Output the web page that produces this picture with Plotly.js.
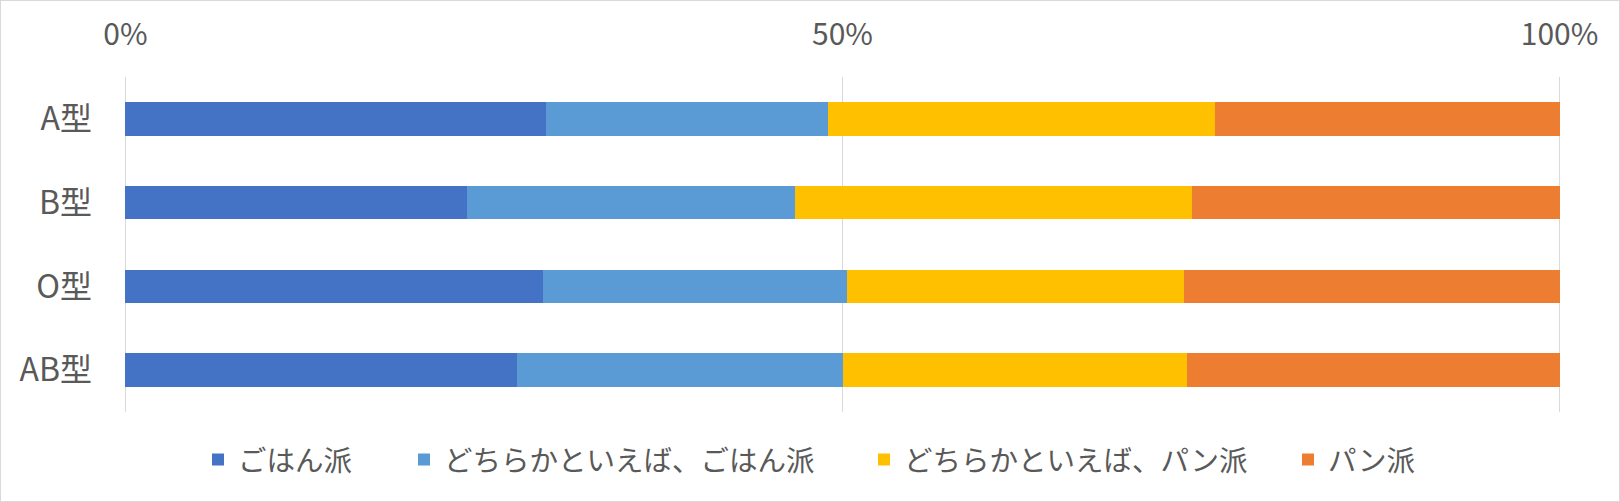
<!DOCTYPE html>
<html>
<head>
<meta charset="utf-8">
<script src="https://cdn.plot.ly/plotly-3.0.1.min.js"></script>
<style>
  body { margin: 0; background: #fff; }
  #chart { width: 1620px; height: 502px; box-sizing: border-box; border: 1px solid #d9d9d9; }
</style>
</head>
<body>
<div id="chart"></div>
<script>
// 血液型ごとの朝食の好み (%)
const bloodTypes = ['A型', 'B型', 'O型', 'AB型'];
const seriesNames = ['ごはん派', 'どちらかといえば、ごはん派', 'どちらかといえば、パン派', 'パン派'];
const gohan = [29.3, 23.8, 29.1, 27.3];
const dochiraGohan = [19.7, 22.9, 21.2, 22.7];
const dochiraPan = [27.0, 27.7, 23.5, 24.0];
const pan = [24.0, 25.6, 26.2, 26.0];
const tickVals = [0, 50, 100];
const tickLabels = ['0%', '50%', '100%'];

const colors = ['#4472C4', '#5B9BD5', '#FFC000', '#ED7D31'];
const values = [gohan, dochiraGohan, dochiraPan, pan];
const legendNames = ['legend', 'legend2', 'legend3', 'legend4'];
// left edge of each legend entry, px
const legendLeft = [197, 403, 863, 1287];

const textColor = '#595959';
const fontFamily = '"Noto Sans CJK JP", "Noto Sans", sans-serif';

const traces = values.map(function (v, i) {
  return {
    type: 'bar',
    orientation: 'h',
    name: seriesNames[i],
    x: v,
    y: bloodTypes,
    marker: { color: colors[i] },
    legend: legendNames[i],
    hoverinfo: 'name+x',
  };
});

const layout = {
  width: 1618,
  height: 500,
  margin: { l: 123, r: 58, t: 76, b: 89 },
  paper_bgcolor: '#ffffff',
  plot_bgcolor: '#ffffff',
  barmode: 'stack',
  bargap: 0.6,
  font: { family: fontFamily, color: textColor, size: 28 },
  xaxis: {
    side: 'top',
    // a bit wider than 0-100, plotly drops gridlines sitting on the edge
    range: [-0.1, 100.1],
    tickmode: 'array',
    tickvals: tickVals,
    ticktext: tickLabels,
    showgrid: true,
    gridcolor: '#d9d9d9',
    gridwidth: 1,
    zeroline: false,
    showline: false,
    ticks: '',
    ticklabelstandoff: 25,
    tickfont: { size: 30, color: textColor },
  },
  yaxis: {
    autorange: 'reversed',
    showgrid: false,
    zeroline: false,
    showline: false,
    ticks: '',
    ticklabelstandoff: 31,
    tickfont: { size: 32, color: textColor },
  },
  showlegend: true,
};

legendNames.forEach(function (ln, i) {
  layout[ln] = {
    orientation: 'h',
    xref: 'container',
    yref: 'container',
    x: legendLeft[i] / 1618,
    xanchor: 'left',
    y: 1 - 459 / 500,
    yanchor: 'middle',
    font: { size: 28.5, color: textColor },
    bgcolor: 'rgba(0,0,0,0)',
  };
});

Plotly.newPlot('chart', traces, layout, { displayModeBar: false, staticPlot: true });
</script>
</body>
</html>
